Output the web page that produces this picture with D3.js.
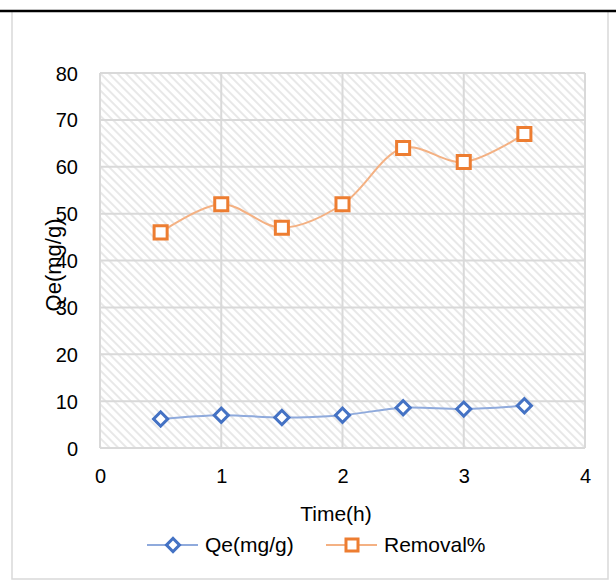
<!DOCTYPE html>
<html>
<head>
<meta charset="utf-8">
<script src="https://cdn.jsdelivr.net/npm/d3@7"></script>
<style>
  body { margin: 0; background: #fff; }
  svg text { font-family: "Liberation Sans", "DejaVu Sans", sans-serif; fill: #000; }
</style>
</head>
<body>
<svg id="chart"></svg>
<script>
// Datos.
const TIME = [0.5, 1, 1.5, 2, 2.5, 3, 3.5];
const QE = [6.2, 7.0, 6.5, 7.0, 8.6, 8.3, 9.0];
const REMOVAL = [46, 52, 47, 52, 64, 61, 67];
const X_TICKS = [0, 1, 2, 3, 4];
const Y_TICKS = [0, 10, 20, 30, 40, 50, 60, 70, 80];

const WIDTH = 616;
const HEIGHT = 583;
const PLOT = { left: 100, right: 585, top: 73, bottom: 448 };

const svg = d3.select('svg#chart')
              .attr('width', WIDTH)
              .attr('height', HEIGHT);

// Marco del gráfico.
svg.append('rect')
    .attr('x', 12).attr('y', 11)
    .attr('width', 596).attr('height', 568)
    .attr('fill', '#fff')
    .attr('stroke', '#d9d9d9')
    .attr('stroke-width', 1.5);

svg.append('line')
    .attr('x1', 0).attr('x2', WIDTH)
    .attr('y1', 11).attr('y2', 11)
    .attr('stroke', '#000')
    .attr('stroke-width', 2.5);

// Patrón rayado.
const defs = svg.append('defs');
defs.append('pattern')
    .attr('id', 'hatch')
    .attr('patternUnits', 'userSpaceOnUse')
    .attr('width', 6).attr('height', 6)
    .attr('patternTransform', 'rotate(-45)')
    .append('rect')
      .attr('x', 0).attr('y', 0)
      .attr('width', 2).attr('height', 6)
      .attr('fill', '#e8e8e8');

const x = d3.scaleLinear().domain([0, 4]).range([PLOT.left, PLOT.right]);
const y = d3.scaleLinear().domain([0, 80]).range([PLOT.bottom, PLOT.top]);

svg.append('rect')
    .attr('x', PLOT.left).attr('y', PLOT.top)
    .attr('width', PLOT.right - PLOT.left)
    .attr('height', PLOT.bottom - PLOT.top)
    .attr('fill', 'url(#hatch)');

// Cuadrícula.
const grid = svg.append('g').attr('id', 'grid');
grid.selectAll('line.h')
    .data(Y_TICKS)
    .join('line')
      .attr('class', 'h')
      .attr('x1', PLOT.left).attr('x2', PLOT.right)
      .attr('y1', d => y(d)).attr('y2', d => y(d))
      .attr('stroke', '#d9d9d9').attr('stroke-width', 2);

grid.selectAll('line.v')
    .data(X_TICKS)
    .join('line')
      .attr('class', 'v')
      .attr('x1', d => x(d)).attr('x2', d => x(d))
      .attr('y1', PLOT.top).attr('y2', PLOT.bottom)
      .attr('stroke', '#d9d9d9').attr('stroke-width', 2);

// Ejes.
const axisY = svg.append('g')
    .attr('transform', `translate(${PLOT.left}, 0)`)
    .call(d3.axisLeft(y).tickValues(Y_TICKS).tickSize(0).tickPadding(22));
axisY.select('.domain').remove();
axisY.selectAll('text').style('font-size', '20px').attr('dy', '0.35em');

const axisX = svg.append('g')
    .attr('transform', `translate(0, ${PLOT.bottom})`)
    .call(d3.axisBottom(x).tickValues(X_TICKS).tickFormat(d3.format('d')).tickSize(0).tickPadding(21));
axisX.select('.domain').remove();
axisX.selectAll('text').style('font-size', '20px');

// Títulos.
svg.append('text')
    .attr('x', 336).attr('y', 521)
    .attr('text-anchor', 'middle')
    .style('font-size', '21px')
    .text('Time(h)');

svg.append('text')
    .attr('transform', 'translate(61, 265) rotate(-90)')
    .attr('text-anchor', 'middle')
    .style('font-size', '22px')
    .text('Qe(mg/g)');

// Series.
const series = [
    { name: 'Qe(mg/g)', values: QE, line: '#8faadc', mark: '#4472c4', rot: 45, size: 100 },
    { name: 'Removal%', values: REMOVAL, line: '#f4b183', mark: '#ed7d31', rot: 0, size: 170 }
];

const linea = d3.line()
    .x(d => x(d[0]))
    .y(d => y(d[1]))
    .curve(d3.curveCatmullRom.alpha(0.5));

series.forEach((s) => {
    const puntos = TIME.map((t, i) => [t, s.values[i]]);
    svg.append('path')
        .datum(puntos)
        .attr('d', linea)
        .attr('fill', 'none')
        .attr('stroke', s.line)
        .attr('stroke-width', 2);

    svg.append('g')
        .selectAll('path')
        .data(puntos)
        .join('path')
          .attr('transform', d => `translate(${x(d[0])}, ${y(d[1])}) rotate(${s.rot})`)
          .attr('d', d3.symbol().type(d3.symbolSquare).size(s.size))
          .attr('fill', '#fff')
          .attr('stroke', s.mark)
          .attr('stroke-width', 3);
});

// Leyenda.
const leyenda = svg.append('g').attr('id', 'legend');
const LEG_X = [147, 326];
series.forEach((s, i) => {
    const g = leyenda.append('g').attr('transform', `translate(${LEG_X[i]}, 545)`);
    g.append('line')
        .attr('x1', 0).attr('x2', 51)
        .attr('stroke', s.line).attr('stroke-width', 2);
    g.append('path')
        .attr('transform', `translate(26, 0) rotate(${s.rot})`)
        .attr('d', d3.symbol().type(d3.symbolSquare).size(s.size * 0.85))
        .attr('fill', '#fff')
        .attr('stroke', s.mark)
        .attr('stroke-width', 3);
    g.append('text')
        .attr('x', 58).attr('dy', '0.35em')
        .style('font-size', '21px')
        .text(s.name);
});
</script>
</body>
</html>
